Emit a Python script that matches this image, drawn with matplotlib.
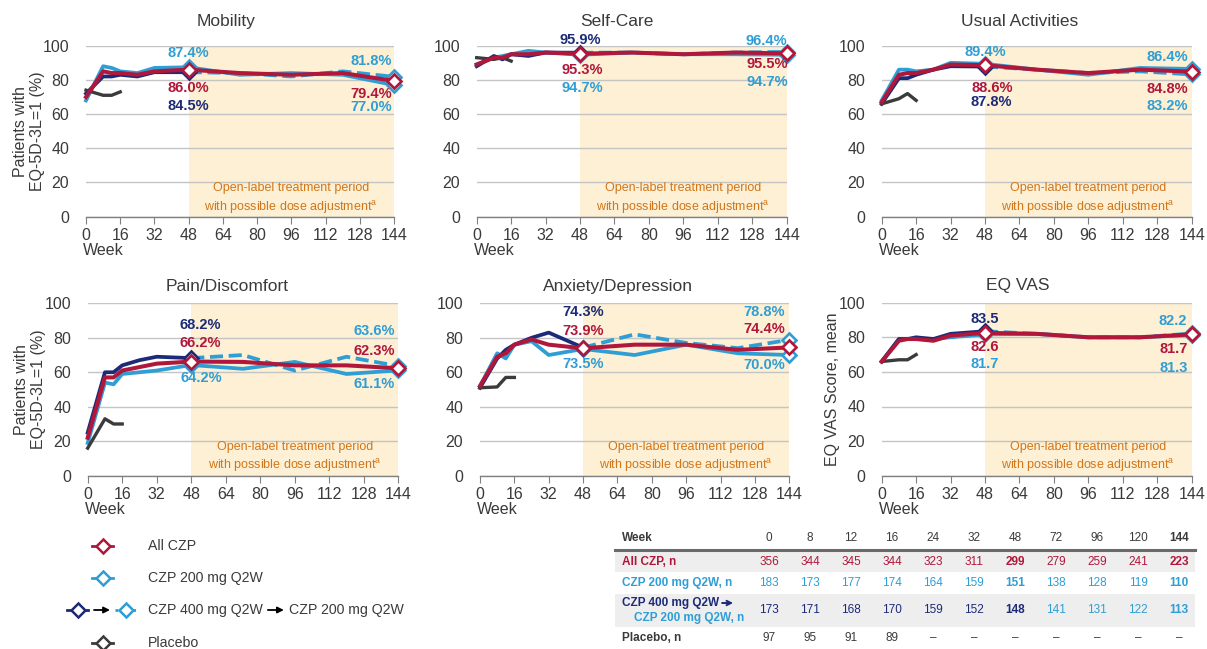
import matplotlib
matplotlib.use('Agg')
import matplotlib.pyplot as plt
from matplotlib.patches import Rectangle

plt.rcParams['font.family'] = ['Liberation Sans', 'DejaVu Sans']

# ---------------- data ----------------
weeks = [0, 8, 12, 16, 24, 32, 48, 72, 96, 120, 144]
placebo_weeks = [0, 8, 12, 16]

mob_all = [70, 85, 84, 84, 83, 85, 86.0, 84, 83, 84, 79.4]
mob_200 = [68, 88, 87, 85, 84, 87, 87.4, 83, 84, 83, 77.0]
mob_400 = [72, 82, 82, 83, 82, 84.5, 84.5, 84, 82, 85, 81.8]
mob_pbo = [74, 71, 71, 73]

sc_all = [89, 93, 93, 95, 95, 96, 95.3, 96, 95, 96, 95.5]
sc_200 = [89, 93, 94, 95, 97, 96, 94.7, 96, 95, 95, 94.7]
sc_400 = [88, 94, 92, 95, 94, 96, 95.9, 96, 95, 96, 96.4]
sc_pbo = [93, 92, 93, 91]

ua_all = [67, 83, 84, 84, 86, 89, 88.6, 86, 84, 86, 84.8]
ua_200 = [68, 86, 86, 85, 86, 90, 89.4, 86, 83, 87, 86.4]
ua_400 = [66, 81, 81, 83, 86, 88, 87.8, 86, 84, 85, 83.2]
ua_pbo = [66, 69, 72, 68]

pd_all = [22, 57, 57, 61, 63, 65, 66.2, 66, 64, 64, 62.3]
pd_200 = [19, 54, 53, 59, 60, 61, 64.2, 62, 66, 59, 61.1]
pd_400 = [25, 60, 60, 64, 67, 69, 68.2, 70, 61, 69, 63.6]
pd_pbo = [16, 33, 30, 30]

ad_all = [52, 69, 71, 76, 79, 76, 73.9, 76, 76, 73, 74.4]
ad_200 = [52, 71, 68, 76, 78, 70, 73.5, 70, 76, 71, 70.0]
ad_400 = [51, 68, 73, 76, 80, 83, 74.3, 82, 77, 74, 78.8]
ad_pbo = [51, 51.5, 57, 57]

vas_all = [66, 78, 79, 79, 78, 81, 82.6, 82, 80, 80, 81.7]
vas_200 = [66, 79, 79, 79, 79, 80, 81.7, 82, 80, 80, 81.3]
vas_400 = [66, 79, 79, 80, 79, 82, 83.5, 82, 80, 80, 82.2]
vas_pbo = [66, 67, 67, 70]

titles = ['Mobility', 'Self-Care', 'Usual Activities',
          'Pain/Discomfort', 'Anxiety/Depression', 'EQ VAS']

table_weeks = ['0', '8', '12', '16', '24', '32', '48', '72', '96', '120', '144']
n_all = [356, 344, 345, 344, 323, 311, 299, 279, 259, 241, 223]
n_200 = [183, 173, 177, 174, 164, 159, 151, 138, 128, 119, 110]
n_400 = [173, 171, 168, 170, 159, 152, 148, 141, 131, 122, 113]
n_pbo = [97, 95, 91, 89]

# ---------------- style ----------------
RED = '#B0173A'
LBLUE = '#2F9ED5'
NAVY = '#1C2A77'
PBO = '#3B3B3B'
ORANGE = '#D2761A'
SHADE = '#FDF0D4'
GRID = '#C4C4C4'
TXT = '#3A3A3A'

W, H = 1207, 649
fig = plt.figure(figsize=(W / 100, H / 100), dpi=100)


def px_axes(x0, x1, ytop, ybot):
    return [x0 / W, 1 - ybot / H, (x1 - x0) / W, (ybot - ytop) / H]


panels = [
    dict(rect=px_axes(86, 394, 45.7, 216.7), data=(mob_all, mob_200, mob_400, mob_pbo),
         ylabel='Patients with\nEQ-5D-3L=1 (%)', ylx=-0.185, pct=True, ty=1.14, tx=0.455,
         labels=[('200', 6, 48, 96, 'center'), ('all', 6, 48, 75, 'center'), ('400', 6, 48, 65, 'center'),
                 ('400', 10, 143, 91, 'right'), ('all', 10, 143, 72, 'right'), ('200', 10, 143, 64, 'right')]),
    dict(rect=px_axes(476.7, 786.7, 45.7, 216.7), data=(sc_all, sc_200, sc_400, sc_pbo),
         ylabel=None, pct=True, ty=1.14, tx=0.453,
         labels=[('400', 6, 48, 103.5, 'center'), ('all', 6, 49, 86, 'center'), ('200', 6, 49, 75.5, 'center'),
                 ('400', 10, 144, 103, 'right'), ('all', 10, 144.5, 89.5, 'right'), ('200', 10, 144.5, 79, 'right')]),
    dict(rect=px_axes(881.7, 1191.7, 45.7, 216.7), data=(ua_all, ua_200, ua_400, ua_pbo),
         ylabel=None, pct=True, ty=1.14, tx=0.446,
         labels=[('200', 6, 48, 96.5, 'center'), ('all', 6, 51.5, 75.5, 'center'), ('400', 6, 51, 67, 'center'),
                 ('200', 10, 142.5, 93.5, 'right'), ('all', 10, 142.5, 74.5, 'right'), ('400', 10, 142.5, 64.5, 'right')]),
    dict(rect=px_axes(87.7, 398.3, 303.3, 475.7), data=(pd_all, pd_200, pd_400, pd_pbo),
         ylabel='Patients with\nEQ-5D-3L=1 (%)', ylx=-0.185, pct=True, ty=1.10, tx=0.448,
         labels=[('400', 6, 52, 87.5, 'center'), ('all', 6, 52, 77, 'center'), ('200', 6, 52.5, 56.5, 'center'),
                 ('400', 10, 142.5, 84, 'right'), ('all', 10, 142.5, 72.5, 'right'), ('200', 10, 142.5, 53, 'right')]),
    dict(rect=px_axes(480, 789.3, 303.3, 475.7), data=(ad_all, ad_200, ad_400, ad_pbo),
         ylabel=None, pct=True, ty=1.10, tx=0.446,
         labels=[('400', 6, 48, 95, 'center'), ('all', 6, 48, 84, 'center'), ('200', 6, 48, 65, 'center'),
                 ('400', 10, 142, 95, 'right'), ('all', 10, 142, 85, 'right'), ('200', 10, 142, 64, 'right')]),
    dict(rect=px_axes(881.7, 1191.7, 302.7, 475.7), data=(vas_all, vas_200, vas_400, vas_pbo),
         ylabel='EQ VAS Score, mean', ylx=-0.16, pct=False, ty=1.10, tx=0.44,
         labels=[('400', 6, 48, 90.5, 'center'), ('all', 6, 48, 74.5, 'center'), ('200', 6, 48, 64.5, 'center'),
                 ('400', 10, 142, 89.5, 'right'), ('all', 10, 142, 73, 'right'), ('200', 10, 142, 62.5, 'right')]),
]

label_color = {'all': RED, '200': LBLUE, '400': NAVY}
MS, MEW = 7.3, 1.9

for title, p in zip(titles, panels):
    ax = fig.add_axes(p['rect'])
    d_all, d_200, d_400, d_pbo = p['data']
    ax.set_xlim(0, 144)
    ax.set_ylim(0, 100)
    ax.axvspan(48, 144, color=SHADE, zorder=0.1, lw=0)
    ax.set_yticks(range(0, 101, 20))
    ax.set_xticks(range(0, 145, 16))
    ax.grid(axis='y', color=GRID, lw=1.0)
    ax.set_axisbelow(True)
    for s in ('top', 'right', 'left'):
        ax.spines[s].set_visible(False)
    ax.spines['bottom'].set_color('#808080')
    ax.spines['bottom'].set_linewidth(1.0)
    ax.tick_params(axis='y', length=0, pad=12, labelsize=11.5, labelcolor=TXT)
    ax.tick_params(axis='x', length=5, color='#808080', pad=3, labelsize=11.5, labelcolor=TXT)

    mk = dict(marker='D', markevery=[6, 10], ms=MS, mfc='white', mew=MEW)
    ax.plot(weeks, d_200, color=LBLUE, lw=2.7, zorder=3, clip_on=False, mec=LBLUE, **mk)
    ax.plot(weeks[6:], d_400[6:], color=LBLUE, lw=2.7, ls=(0, (3.5, 1.5)), zorder=3, clip_on=False,
            marker='D', markevery=[4], ms=MS, mfc='white', mew=MEW, mec=LBLUE)
    ax.plot(weeks[:7], d_400[:7], color=NAVY, lw=2.7, zorder=4, clip_on=False,
            marker='D', markevery=[6], ms=MS, mfc='white', mew=MEW, mec=NAVY)
    ax.plot(placebo_weeks, d_pbo, color=PBO, lw=2.4, zorder=4, clip_on=False)
    ax.plot(weeks, d_all, color=RED, lw=2.9, zorder=5, clip_on=False, mec=RED, **mk)

    series = {'all': d_all, '200': d_200, '400': d_400}
    for key, idx, x, y, ha in p['labels']:
        v = series[key][idx]
        s = f'{v:.1f}%' if p['pct'] else f'{v:.1f}'
        ax.text(x, y, s, color=label_color[key] if not (key == '400' and idx == 10) else LBLUE,
                fontsize=10.5, fontweight='bold', ha=ha, va='center', zorder=6)

    ax.text(96, 10.5, 'Open-label treatment period\nwith possible dose adjustment$^{\\mathregular{a}}$',
            color=ORANGE, fontsize=9.0, ha='center', va='center', linespacing=1.4, zorder=2)
    ax.text(p['tx'], p['ty'], title, transform=ax.transAxes, ha='center', va='center',
            fontsize=12.5, color=TXT)
    ax.text(-0.009, -0.195, 'Week', transform=ax.transAxes, ha='left', va='center',
            fontsize=11.5, color=TXT)
    if p['ylabel']:
        ax.text(p['ylx'], 0.5, p['ylabel'], transform=ax.transAxes, rotation=90,
                ha='center', va='center', fontsize=11.5, color=TXT, multialignment='center')

# ---------------- overlay: legend + table ----------------
ov = fig.add_axes([0, 0, 1, 1])
ov.set_xlim(0, W)
ov.set_ylim(H, 0)
ov.axis('off')
renderer = fig.canvas.get_renderer()


def right_edge(t):
    bb = t.get_window_extent(renderer)
    return ov.transData.inverted().transform((bb.x1, bb.y0))[0]


def arrow(x0, x1, y, lw=1.3, ms=9):
    ov.annotate('', xy=(x1, y), xytext=(x0, y),
                arrowprops=dict(arrowstyle='-|>', color='black', lw=lw, mutation_scale=ms,
                                shrinkA=0, shrinkB=0))


LFS = 10.2
leg_rows = [('All CZP', RED, 546), ('CZP 200 mg Q2W', LBLUE, 578), ('Placebo', PBO, 643)]
for name, c, y in leg_rows:
    ov.plot([92, 113], [y, y], color=c, lw=2)
    ov.plot([102.5], [y], 'D', ms=7.5, mfc='white', mec=c, mew=1.8)
    ov.text(148, y, name, fontsize=LFS, color=TXT, va='center', ha='left')

y3 = 610
ov.plot([67, 88], [y3, y3], color=NAVY, lw=2)
ov.plot([77.5], [y3], 'D', ms=7.5, mfc='white', mec=NAVY, mew=1.8)
arrow(94, 110, y3)
ov.plot([115, 137], [y3, y3], color=LBLUE, lw=2, ls=(0, (1, 2.2)))
ov.plot([126], [y3], 'D', ms=7.5, mfc='white', mec=LBLUE, mew=1.8)
t1 = ov.text(148, y3, 'CZP 400 mg Q2W', fontsize=LFS, color=TXT, va='center', ha='left')
xe = right_edge(t1)
arrow(xe + 5, xe + 21, y3)
ov.text(xe + 26, y3, 'CZP 200 mg Q2W', fontsize=LFS, color=TXT, va='center', ha='left')

# table
tx0, tx1 = 615, 1195
col_x = [769 + i * 41 for i in range(len(table_weeks))]
bold_cols = {6, 10}
ov.add_patch(Rectangle((tx0, 550), tx1 - tx0, 22, color='#EEEEEE', lw=0, zorder=0))
ov.add_patch(Rectangle((tx0, 594), tx1 - tx0, 33, color='#EEEEEE', lw=0, zorder=0))
ov.plot([tx0, tx1], [549.5, 549.5], color='#6A6A6A', lw=2.2)

fs = 8.5
ov.text(622, 538, 'Week', fontsize=fs, fontweight='bold', color=TXT, va='center')
for i, (x, w) in enumerate(zip(col_x, table_weeks)):
    ov.text(x, 538, w, fontsize=fs, color=TXT, ha='center', va='center',
            fontweight='bold' if i == 10 else 'normal')

ov.text(622, 562, 'All CZP, n', fontsize=fs, fontweight='bold', color=RED, va='center')
ov.text(622, 583, 'CZP 200 mg Q2W, n', fontsize=fs, fontweight='bold', color=LBLUE, va='center')
t2 = ov.text(622, 603, 'CZP 400 mg Q2W', fontsize=fs, fontweight='bold', color=NAVY, va='center')
xe2 = right_edge(t2)
ov.annotate('', xy=(xe2 + 14, 603), xytext=(xe2 + 3, 603),
            arrowprops=dict(arrowstyle='->', color=NAVY, lw=1.4, mutation_scale=8,
                            shrinkA=0, shrinkB=0))
ov.text(634, 618, 'CZP 200 mg Q2W, n', fontsize=fs, fontweight='bold', color=LBLUE, va='center')
ov.text(622, 638, 'Placebo, n', fontsize=fs, fontweight='bold', color=TXT, va='center')

for i, x in enumerate(col_x):
    fw = 'bold' if i in bold_cols else 'normal'
    ov.text(x, 562, str(n_all[i]), fontsize=fs, color=RED, ha='center', va='center', fontweight=fw)
    ov.text(x, 583, str(n_200[i]), fontsize=fs, color=LBLUE, ha='center', va='center', fontweight=fw)
    ov.text(x, 610, str(n_400[i]), fontsize=fs, color=NAVY if i <= 6 else LBLUE,
            ha='center', va='center', fontweight=fw)
    pv = str(n_pbo[i]) if i < len(n_pbo) else '\u2013'
    ov.text(x, 638, pv, fontsize=fs, color=TXT, ha='center', va='center')

fig.savefig('out.png', dpi=100)
